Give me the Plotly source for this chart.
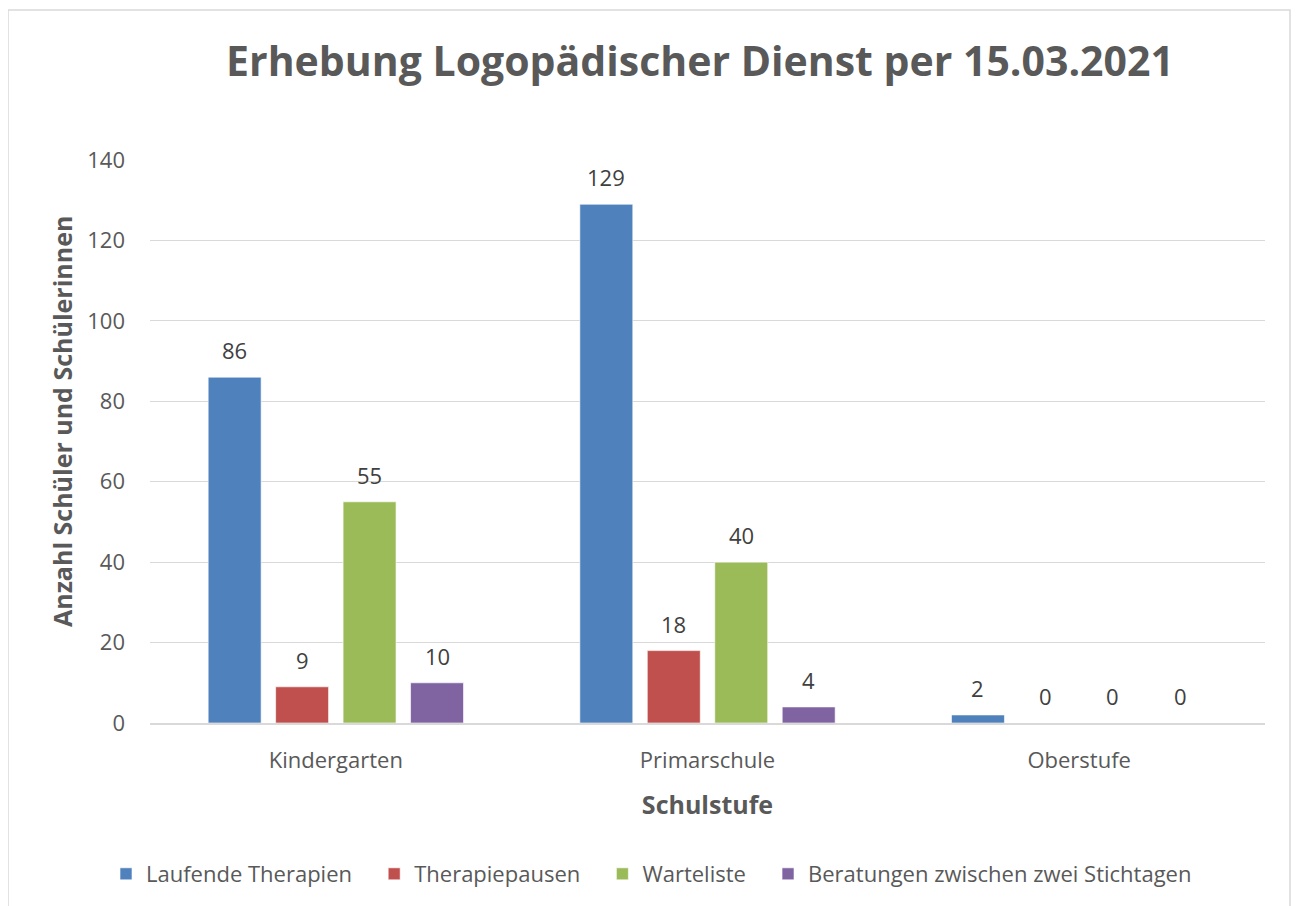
import plotly.graph_objects as go

categories = ["Kindergarten", "Primarschule", "Oberstufe"]
series_names = ["Laufende Therapien", "Therapiepausen", "Warteliste", "Beratungen zwischen zwei Stichtagen"]
laufende = [86, 129, 2]
pausen = [9, 18, 0]
warteliste = [55, 40, 0]
beratungen = [10, 4, 0]
colors = ["#4F81BD", "#C0504D", "#9BBB59", "#8064A2"]

FONT = "Open Sans, Noto Sans, sans-serif"
TXT = "#595959"

OFF = 8  # page body margin
W, H = 1300, 906
L, R, T, B = 150 - OFF, W - 1265 + OFF, 160 - OFF, H - 723 + OFF
pw, ph = W - L - R, H - T - B
BARGAP, GROUPGAP = 0.274, 0.215

def px(x):
    return (x - OFF - L) / pw

def py(y):
    return (H - B - (y - OFF)) / ph

fig = go.Figure()
all_series = [laufende, pausen, warteliste, beratungen]
slot = pw / len(categories) * (1 - BARGAP) / len(all_series)
annotations = []
for i, (name, vals, col) in enumerate(zip(series_names, all_series, colors)):
    fig.add_trace(go.Bar(
        name=name + "\u00a0\u00a0\u00a0", x=categories, y=vals,
        marker=dict(color=col, line=dict(color="rgba(255,255,255,0.6)", width=1)),
    ))
    for c, v in zip(categories, vals):
        annotations.append(dict(
            x=c, y=v, xref="x", yref="y", text=str(v), showarrow=False,
            xanchor="center", yanchor="bottom",
            xshift=(i - (len(all_series) - 1) / 2) * slot, yshift=10,
            font=dict(size=22, color="#404040", family=FONT),
        ))

annotations.append(dict(
    text="<b>Anzahl Schüler und Schülerinnen</b>", textangle=-90,
    xref="paper", yref="paper", x=px(62), y=py(422), xanchor="center", yanchor="middle",
    showarrow=False, font=dict(size=25, color=TXT, family=FONT),
))

fig.update_layout(
    width=W, height=H,
    margin=dict(l=L, r=R, t=T, b=B),
    paper_bgcolor="white", plot_bgcolor="white",
    barmode="group", bargap=BARGAP, bargroupgap=GROUPGAP,
    font=dict(family=FONT, color=TXT, size=22),
    title=dict(text="<b>Erhebung Logopädischer Dienst per 15.03.2021</b>",
               x=(700 - OFF) / W, xanchor="center", y=1 - (62 - OFF) / H, yanchor="middle",
               font=dict(size=41, color=TXT, family=FONT)),
    xaxis=dict(title=dict(text="<b>Schulstufe</b>", font=dict(size=25, color=TXT), standoff=23),
               tickfont=dict(size=22, color=TXT), showline=True, linecolor="#D9D9D9",
               linewidth=1.5, ticks="", showgrid=False, ticklabelstandoff=17),
    yaxis=dict(range=[0, 140], dtick=20, tickfont=dict(size=22, color=TXT),
               gridcolor="#D9D9D9", gridwidth=1.2, zeroline=False, ticks="",
               ticklabelstandoff=24),
    legend=dict(orientation="h", x=px(660), xanchor="center", y=py(874), yanchor="middle",
                font=dict(size=22, color=TXT), itemwidth=30, traceorder="normal"),
    annotations=annotations,
    shapes=[dict(type="rect", xref="paper", yref="paper",
                 x0=px(8), x1=px(1290), y0=py(930), y1=py(10),
                 line=dict(color="#D9D9D9", width=1.5), fillcolor="rgba(0,0,0,0)", layer="below")],
)

fig.write_html("out.html")
